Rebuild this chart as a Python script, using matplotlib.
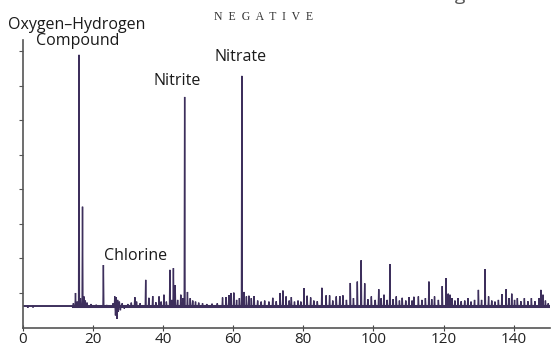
import matplotlib
matplotlib.use("Agg")
import matplotlib.pyplot as plt

# ピーク位置 (m/z) と高さ。BASE はベースラインの高さ。
BASE = 6.2
peak_x = [1.5, 3.0, 14.5, 15.1, 15.6, 16.1, 16.5, 17.1, 17.5, 17.9, 18.4, 19.5, 21.0,
          23.05, 24.0, 25.8, 26.3, 26.5, 26.7, 26.9, 27.1, 27.3, 27.6, 27.9, 28.4, 29.0,
          30.0, 31.0, 32.0, 32.5, 33.5, 35.1, 36.0, 37.1, 38.0, 38.9, 39.5, 40.3, 41.0,
          42.0, 42.5, 43.0, 43.5, 44.2, 45.1, 45.7, 46.2, 47.0, 47.8, 48.5, 49.3, 50.2,
          51.3, 52.5, 54.0, 55.5, 57.0, 58.0, 58.8, 59.4, 60.2, 61.0, 61.8, 62.5, 63.1,
          63.8, 64.5, 65.2, 66.0, 67.0, 68.0, 69.0, 70.2, 71.3, 72.3, 73.4, 74.2, 75.1,
          76.0, 76.6, 77.5, 78.5, 79.3, 80.2, 81.1, 82.1, 83.0, 84.0, 85.3, 86.5, 87.5,
          88.4, 89.4, 90.4, 91.3, 92.3, 93.4, 94.3, 95.4, 96.5, 97.5, 98.4, 99.4, 100.5,
          101.5, 102.2, 103.0, 103.9, 104.7, 105.6, 106.5, 107.4, 108.2, 109.2, 110.1,
          111.0, 111.5, 112.8, 113.8, 114.8, 115.8, 116.6, 117.4, 118.5, 119.6, 120.7,
          121.3, 121.8, 122.4, 123.2, 124.1, 125.0, 126.0, 126.9, 127.8, 128.8, 129.9,
          130.8, 131.8, 132.8, 133.7, 134.6, 135.6, 136.6, 137.8, 138.6, 139.4, 140.2,
          141.0, 142.0, 143.0, 144.0, 145.0, 146.0, 147.2, 147.7, 148.3, 149.0, 149.8]
peak_y = [5.7, 5.8, 7.0, 10.0, 7.5, 79.0, 8.5, 35.0, 9.0, 7.8, 7.2, 6.8, 6.6,
          18.1, 6.5, 7.0, 9.0, 3.5, 8.8, 2.5, 8.0, 4.5, 7.5, 5.0, 7.0, 5.5,
          6.8, 7.2, 8.8, 7.5, 7.0, 13.8, 8.6, 9.1, 7.3, 9.0, 7.5, 9.5, 7.5,
          16.7, 8.0, 17.2, 12.3, 8.0, 9.5, 8.5, 66.8, 10.3, 8.5, 7.8, 7.5, 7.2,
          7.0, 6.8, 6.9, 7.0, 8.7, 8.8, 9.4, 10.0, 10.1, 8.0, 8.5, 72.9, 10.3,
          9.0, 9.2, 8.5, 9.1, 7.8, 7.5, 7.8, 7.5, 8.6, 7.6, 10.0, 10.7, 9.0,
          7.8, 8.8, 7.5, 7.8, 7.5, 11.4, 9.2, 8.7, 7.8, 7.6, 11.5, 9.3, 9.3,
          7.8, 9.0, 9.1, 9.3, 8.0, 12.9, 8.5, 13.3, 19.5, 12.8, 8.2, 9.0, 8.0,
          11.1, 8.5, 9.5, 8.0, 18.4, 8.2, 9.0, 7.8, 8.6, 7.8, 8.8,
          7.8, 8.9, 9.0, 8.0, 8.5, 13.3, 8.2, 9.0, 8.0, 12.0, 14.3,
          9.8, 9.5, 8.5, 7.8, 8.5, 7.6, 7.8, 8.5, 7.5, 8.0, 10.9,
          8.0, 16.9, 9.0, 7.8, 7.5, 8.0, 9.7, 11.1, 8.5, 9.8, 8.0,
          8.5, 7.6, 8.5, 7.6, 8.5, 7.6, 8.5, 10.9, 9.5, 7.8, 7.0]

x_start, x_noise, x_end = 0.5, 14.5, 150.5
x_ticks = [0, 20, 40, 60, 80, 100, 120, 140]
y_ticks = [10, 20, 30, 40, 50, 60, 70, 80]

# スパイク状の折れ線を作る
w = 0.12
tx = [x_start]
ty = [BASE]
for px, py in zip(peak_x, peak_y):
    tx += [px - w, px, px + w]
    ty += [BASE, py, BASE]
tx.append(x_end)
ty.append(BASE)

plt.rcParams['font.family'] = ['Open Sans', 'DejaVu Sans']

fig = plt.figure(figsize=(5.54, 3.47), dpi=100)
ax = fig.add_axes([22.5 / 554, 19.5 / 347, 527.5 / 554, 287.5 / 347])

trace = '#3d2f5c'
ax.plot(tx, ty, color=trace, lw=1.0, solid_joinstyle='miter')
ax.plot([x_start, x_noise], [BASE, BASE], color=trace, lw=1.3)
ax.plot([x_noise, x_end], [BASE, BASE], color=trace, lw=2.2)

ax.set_xlim(0, 150.3)
ax.set_ylim(0, 83.3)
ax.set_xticks(x_ticks)
ax.set_yticks(y_ticks)
ax.set_yticklabels([])
ax.tick_params(axis='x', direction='inout', length=4, width=0.8, pad=1,
               labelsize=11, colors='#444', labelcolor='#222')
ax.tick_params(axis='y', direction='out', length=3, width=0.8, colors='#555')
for s in ['top', 'right']:
    ax.spines[s].set_visible(False)
for s in ['left', 'bottom']:
    ax.spines[s].set_color('#555')
    ax.spines[s].set_linewidth(1.2)

lab = dict(ha='center', va='baseline', fontsize=11.5, color='#1a1a1a')
ax.text(15.3, 86.4, 'Oxygen–Hydrogen', **lab)
ax.text(15.6, 81.9, 'Compound', **lab)
ax.text(44.2, 70.3, 'Nitrite', **lab)
ax.text(62.0, 77.2, 'Nitrate', **lab)
ax.text(32.2, 19.6, 'Chlorine', **lab)
ax.text(68.8, 89.1, 'N  E  G  A  T  I  V  E', ha='center', va='baseline',
        fontsize=8.5, family='Liberation Serif', color='#333')
fig.text(440 / 554, 1.0, 'Figure 2', ha='left', va='baseline',
         fontsize=14, color='#555')

fig.savefig('out.png', dpi=100)
